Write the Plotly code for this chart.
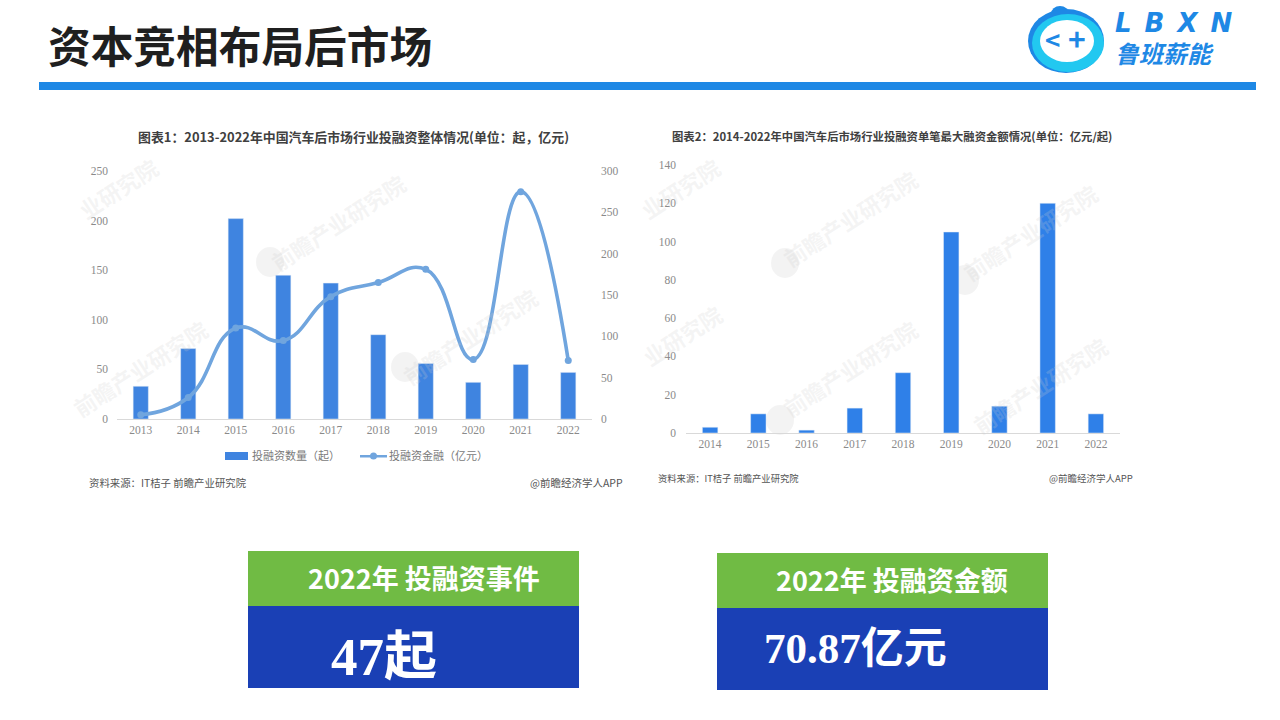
import plotly.graph_objects as go

W, H = 1280, 720
CJK = "Noto Sans CJK SC"
SERIF = "Liberation Serif, Noto Sans CJK SC"

years1 = ["2013", "2014", "2015", "2016", "2017", "2018", "2019", "2020", "2021", "2022"]
deal_counts = [33, 71, 202, 145, 137, 85, 56, 37, 55, 47]
deal_amounts = [5, 26, 110, 95, 148, 165, 181, 72, 275, 70.87]

years2 = ["2014", "2015", "2016", "2017", "2018", "2019", "2020", "2021", "2022"]
max_single = [3, 10, 1.5, 13, 31.5, 105, 14, 120, 10]

title_main = "资本竞相布局后市场"
title1 = "图表1：2013-2022年中国汽车后市场行业投融资整体情况(单位：起，亿元)"
title2 = "图表2：2014-2022年中国汽车后市场行业投融资单笔最大融资金额情况(单位：亿元/起)"
source = "资料来源：IT桔子 前瞻产业研究院"
credit = "@前瞻经济学人APP"
name_bar = "投融资数量（起）"
name_line = "投融资金融（亿元）"
watermarks = [
    ("业研究院", 118, 188), ("前瞻产业研究院", 338, 222), ("前瞻产业研究院", 140, 368),
    ("前瞻产业研究院", 470, 336), ("业研究院", 680, 188), ("前瞻产业研究院", 850, 218),
    ("前瞻产业研究院", 1030, 232), ("业研究院", 682, 335), ("前瞻产业研究院", 850, 368),
    ("前瞻产业研究院", 1040, 385),
]
watermark_dots = [(270, 262), (405, 367), (785, 263), (965, 280), (780, 420)]

BAR1 = "#3F84E0"
LINE1 = "#70A5DE"


def fx(p):
    return p / W


def fy(p):
    return 1 - p / H


def rect(x0, y0, x1, y1, color):
    return dict(type="rect", xref="paper", yref="paper", x0=fx(x0), x1=fx(x1), y0=fy(y1), y1=fy(y0),
                fillcolor=color, line_width=0, layer="below")


def oval(cx, cy, rx, ry, color):
    return dict(type="circle", xref="paper", yref="paper", x0=fx(cx - rx), x1=fx(cx + rx), y0=fy(cy + ry),
                y1=fy(cy - ry), fillcolor=color, line_width=0, layer="below")


def text(s, x, y, size, color, anchor="center", bold=False, family=CJK, angle=0, italic=False):
    return dict(text=f"<b>{s}</b>" if bold else s, x=fx(x), y=fy(y), xref="paper", yref="paper",
                xanchor=anchor, yanchor="middle", showarrow=False, textangle=angle, align="left",
                font=dict(size=size, color=color, family=family, style="italic" if italic else "normal"))


fig = go.Figure()
fig.add_bar(x=years1, y=deal_counts, name=name_bar, marker_color=BAR1, width=0.32,
            xaxis="x", yaxis="y")
fig.add_scatter(x=years1, y=deal_amounts, name=name_line, mode="lines+markers", xaxis="x", yaxis="y2",
                line=dict(color=LINE1, width=3.6, shape="spline", smoothing=1.3),
                marker=dict(size=7, color=LINE1))
fig.add_bar(x=years2, y=max_single, name="单笔最大融资金额", marker_color="#2F80E8", width=0.32,
            xaxis="x2", yaxis="y3")

tick_font = dict(size=11.5, color="#8A8A8A", family=SERIF)
xcommon = dict(type="category", showgrid=False, showline=True, linecolor="#D9D9D9", linewidth=1,
               ticks="", tickfont=tick_font, fixedrange=True, automargin=False)
ycommon = dict(showgrid=False, zeroline=False, showline=False, ticks="", tickfont=tick_font,
               fixedrange=True, automargin=False)

shapes = [
    rect(39, 82, 1256, 90, "#1E88E5"),
    rect(248, 551, 579, 606, "#70BB44"), rect(248, 606, 579, 688, "#1A40B5"),
    rect(717, 553, 1048, 608, "#70BB44"), rect(717, 608, 1048, 690, "#1A40B5"),
    oval(1060, 14, 9, 8, "#1E88E5"),
    oval(1066, 41, 38, 32, "#1E88E5"),
    oval(1068, 43, 36, 29, "#22C8F0"),
    oval(1067, 41, 27, 21, "#FFFFFF"),
    rect(225, 452, 248, 460, BAR1),
    rect(360, 455, 387, 457.5, LINE1),
    oval(373.5, 456, 3.5, 3.5, LINE1),
]
for x, y in watermark_dots:
    shapes.append(oval(x, y, 14, 15, "rgba(215,215,215,0.3)"))

logo_text = ("<span style=\"font-size:26px;font-family:'DejaVu Sans'\">L\u2002B\u2002X\u2002N</span><br>"
             "<span style=\"font-size:24px\">鲁班薪能</span>")

annotations = [
    text(title_main, 46, 44, 42.7, "#1F1F1F", "left", True),
    text(title1, 353, 136, 12.9, "#404040", bold=True),
    text(title2, 892, 136, 11.35, "#404040", bold=True),
    text(source, 87, 483, 10.4, "#555555", "left"),
    text(credit, 625, 483, 10.5, "#555555", "right"),
    text(source, 656, 478, 9.3, "#555555", "left"),
    text(credit, 1135, 478, 9.5, "#555555", "right"),
    text(name_bar, 250, 455, 11, "#7A7A7A", "left"),
    text(name_line, 387, 455, 11, "#7A7A7A", "left"),
    text("2022年 投融资事件", 424, 577, 27, "#FFFFFF", bold=True),
    text("2022年 投融资金额", 892, 579, 27, "#FFFFFF", bold=True),
    text("47起", 384, 657, 53, "#FFFFFF", bold=True, family=SERIF),
    text("70.87亿元", 855, 648, 43, "#FFFFFF", bold=True, family=SERIF),
    text("<", 1052, 38, 26, "#1E88E5", bold=True),
    text("+", 1077, 38, 30, "#1E88E5", bold=True),
    text(logo_text, 1113, 39, 24, "#1E88E5", "left", bold=True, italic=True),
]
for s, x, y in watermarks:
    annotations.append(text(s, x, y, 22, "rgba(205,205,205,0.22)", bold=True, angle=-33))

fig.update_layout(
    width=W, height=H, margin=dict(l=0, r=0, t=0, b=0), autosize=False,
    paper_bgcolor="#FFFFFF", plot_bgcolor="rgba(0,0,0,0)", showlegend=False, barmode="overlay",
    font=dict(family=CJK),
    xaxis=dict(domain=[fx(117), fx(592)], range=[-0.5, 9.5], anchor="y", **xcommon),
    yaxis=dict(domain=[fy(419), fy(171)], range=[0, 250], tickvals=[0, 50, 100, 150, 200, 250],
               anchor="x", ticklabelstandoff=8, **ycommon),
    yaxis2=dict(domain=[fy(419), fy(171)], range=[0, 300], tickvals=[0, 50, 100, 150, 200, 250, 300],
                overlaying="y", side="right", anchor="x", ticklabelstandoff=8, **ycommon),
    xaxis2=dict(domain=[fx(686), fx(1120)], range=[-0.5, 8.5], anchor="y3", **xcommon),
    yaxis3=dict(domain=[fy(433), fy(165)], range=[0, 140], tickvals=[0, 20, 40, 60, 80, 100, 120, 140],
                anchor="x2", ticklabelstandoff=9, **ycommon),
    shapes=shapes, annotations=annotations,
)

fig.write_html("out.html", config=dict(displayModeBar=False),
               post_script="document.body.style.margin='0';document.documentElement.style.overflow='hidden';")
